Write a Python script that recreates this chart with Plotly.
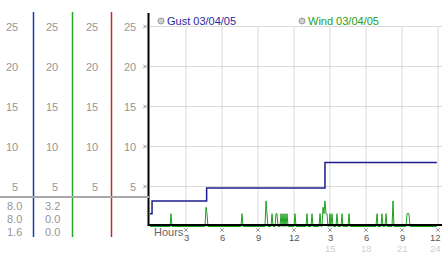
import plotly.graph_objects as go

# ---------------- data ----------------
hour_ticks = [3, 6, 9, 12, 15, 18, 21, 24]
hour_tick_labels = ["3", "6", "9", "12", "3", "6", "9", "12"]
hour_tick_sublabels = ["", "", "", "", "15", "18", "21", "24"]
speed_ticks = [5, 10, 15, 20, 25]

gust_hours = [0.0, 0.17, 4.72, 14.58, 23.9]
gust_speed = [1.6, 3.2, 4.8, 8.0, 8.0]

wind_hours = [0.0, 1.67, 1.75, 1.83,
              4.58, 4.67, 4.75, 4.83,
              7.58, 7.67, 7.75,
              9.58, 9.67, 9.75, 9.83,
              10.08, 10.17, 10.25,
              10.42, 10.5, 10.58, 10.67,
              10.83, 10.92, 11.0, 11.08, 11.17, 11.25, 11.33, 11.42, 11.5,
              12.0, 12.08, 12.17,
              13.0, 13.08, 13.17,
              13.42, 13.5, 13.58,
              14.08, 14.17, 14.25, 14.33, 14.42, 14.5, 14.58, 14.67, 14.75, 14.83,
              14.92, 15.0, 15.08, 15.17, 15.25,
              15.5, 15.58, 15.67,
              15.92, 16.0, 16.08,
              16.5, 16.58, 16.67,
              18.83, 18.92, 19.0,
              19.25, 19.33, 19.42,
              19.58, 19.67, 19.75,
              20.17, 20.25, 20.33,
              21.33, 21.42, 21.5, 21.58, 21.67,
              23.9]
wind_speed = [0, 0, 1.6, 0,
              0, 2.4, 1.6, 0,
              0, 1.6, 0,
              0, 3.2, 1.6, 0,
              0, 1.6, 0,
              0, 1.6, 1.6, 0,
              0, 1.6, 0, 1.6, 0, 1.6, 0, 1.6, 0,
              0, 1.6, 0,
              0, 1.6, 0,
              0, 1.6, 0,
              0, 1.6, 0, 0, 2.4, 1.6, 3.2, 1.6, 1.6, 0,
              0, 1.6, 0, 1.6, 0,
              0, 1.6, 0,
              0, 1.6, 0,
              0, 1.6, 0,
              0, 1.6, 0,
              0, 1.6, 0,
              0, 1.6, 0,
              0, 3.2, 0,
              0, 1.6, 1.6, 1.6, 0,
              0]

gust_stats = ["8.0", "8.0", "1.6"]
wind_stats = ["3.2", "0.0", "0.0"]
gust_name = "Gust 03/04/05"
wind_name = "Wind 03/04/05"

# ---------------- helpers (pixel -> paper) ----------------
W, H = 442, 253
X0_PX, PX_PER_H = 150.0, 12.0
Y0_PX, PX_PER_U = 226.5, 8.0


def fx(px):
    return px / W


def fy(py):
    return (H - py) / H


def hx(px):          # pixel -> hour (data) coordinate
    return (px - X0_PX) / PX_PER_H


def vy(py):          # pixel -> speed (data) coordinate
    return (Y0_PX - py) / PX_PER_U


def px_of_hour(h):
    return X0_PX + h * PX_PER_H


def py_of_speed(v):
    return Y0_PX - v * PX_PER_U


FONT = "Liberation Sans, Arial, sans-serif"
GUST_C = "#1c1c8c"
WIND_C = "#1f9f1f"

fig = go.Figure()
fig.add_trace(go.Scatter(x=wind_hours, y=wind_speed, mode="lines",
                         line=dict(color=WIND_C, width=1), hoverinfo="skip",
                         showlegend=False))
fig.add_trace(go.Scatter(x=gust_hours, y=gust_speed, mode="lines",
                         line=dict(color=GUST_C, width=1.5, shape="hv"),
                         hoverinfo="skip", showlegend=False))

shapes = []
ann = []


def xmark(cx, cy, r=1.8):
    """tiny 'x' tick mark centred on pixel (cx, cy)"""
    path = (f"M {fx(cx - r)} {fy(cy - r)} L {fx(cx + r)} {fy(cy + r)} "
            f"M {fx(cx - r)} {fy(cy + r)} L {fx(cx + r)} {fy(cy - r)}")
    return dict(type="path", xref="paper", yref="paper", path=path,
                line=dict(color="#9a9a9a", width=1))


# gridlines
for v in speed_ticks:
    shapes.append(dict(type="line", xref="x", yref="y", x0=0, x1=24.4, y0=v, y1=v,
                       line=dict(color="#dadada", width=1), layer="below"))
for h in hour_ticks:
    shapes.append(dict(type="line", xref="x", yref="y", x0=h, x1=h, y0=0,
                       y1=max(speed_ticks), line=dict(color="#dadada", width=1),
                       layer="below"))

# tick marks
for v in speed_ticks:
    shapes.append(xmark(145, py_of_speed(v)))
for h in hour_ticks:
    shapes.append(xmark(px_of_hour(h), 230))

# black axes
shapes.append(dict(type="line", xref="paper", yref="paper", x0=fx(148.5), x1=fx(148.5),
                   y0=fy(13), y1=fy(226), line=dict(color="black", width=2)))
shapes.append(dict(type="line", xref="paper", yref="paper", x0=fx(148), x1=1,
                   y0=fy(225), y1=fy(225), line=dict(color="black", width=2)))

# left panel column lines
for px, c in [(33.5, "#1438b4"), (72.5, "#22a822"), (111.5, "#c42828")]:
    shapes.append(dict(type="line", xref="paper", yref="paper", x0=fx(px), x1=fx(px),
                       y0=fy(12), y1=fy(237), line=dict(color=c, width=1.5)))
# separator
shapes.append(dict(type="line", xref="paper", yref="paper", x0=0, x1=fx(149),
                   y0=fy(197), y1=fy(197), line=dict(color="#a8a8a8", width=2)))

# left panel numbers
for right in [20, 60, 100, 138]:
    for v in speed_ticks:
        ann.append(dict(text=str(v), xref="paper", yref="y", x=fx(right), y=v,
                        xanchor="right", yanchor="middle", showarrow=False,
                        font=dict(family=FONT, size=11, color="#969696")))

# stats
for i, (g, w) in enumerate(zip(gust_stats, wind_stats)):
    py = 206 + 13 * i
    ann.append(dict(text=g, xref="paper", yref="paper", x=fx(23.5), y=fy(py),
                    xanchor="right", yanchor="middle", showarrow=False,
                    font=dict(family=FONT, size=11, color="#969696")))
    ann.append(dict(text=w, xref="paper", yref="paper", x=fx(62), y=fy(py),
                    xanchor="right", yanchor="middle", showarrow=False,
                    font=dict(family=FONT, size=11, color="#969696")))

# x tick labels
last = hour_ticks[-1]
for h, lab, sub in zip(hour_ticks, hour_tick_labels, hour_tick_sublabels):
    at_edge = h == last
    xa = dict(xref="paper", x=1.0, xanchor="right") if at_edge else \
        dict(xref="x", x=h, xanchor="center")
    ann.append(dict(text=lab, yref="paper", y=fy(237.5), yanchor="middle",
                    showarrow=False, borderpad=0,
                    font=dict(family=FONT, size=9.5, color="#555555"), **xa))
    if sub:
        ann.append(dict(text=sub, yref="paper", y=fy(248.5), yanchor="middle",
                        showarrow=False, borderpad=0,
                        font=dict(family=FONT, size=9.5, color="#d0d0d0"), **xa))
ann.append(dict(text="Hours", xref="paper", yref="paper", x=fx(152), y=fy(232),
                xanchor="left", yanchor="middle", showarrow=False,
                font=dict(family=FONT, size=11, color="#666666")))

# legend
for cx, name, col in [(161, gust_name, "#2a2a9c"), (302, wind_name, "#22a022")]:
    shapes.append(dict(type="circle", xref="paper", yref="paper",
                       x0=fx(cx - 3), x1=fx(cx + 3), y0=fy(24), y1=fy(18),
                       line=dict(color="#9a9a9a", width=1), fillcolor="#cfcfcf"))
    ann.append(dict(text=name, xref="paper", yref="paper", x=fx(cx + 4), y=fy(21),
                    xanchor="left", yanchor="middle", showarrow=False,
                    font=dict(family=FONT, size=11, color=col)))

fig.update_layout(
    width=W, height=H,
    margin=dict(l=0, r=0, t=0, b=0),
    paper_bgcolor="white", plot_bgcolor="white",
    shapes=shapes, annotations=ann,
    xaxis=dict(domain=[fx(148), 1], range=[hx(148), hx(442)], showgrid=False,
               zeroline=False, showticklabels=False, showline=False, ticks=""),
    yaxis=dict(domain=[fy(228), fy(13)], range=[vy(228), vy(13)], showgrid=False,
               zeroline=False, showticklabels=False, showline=False, ticks=""),
    showlegend=False,
)

fig.write_html("out.html", config={"displayModeBar": False})
